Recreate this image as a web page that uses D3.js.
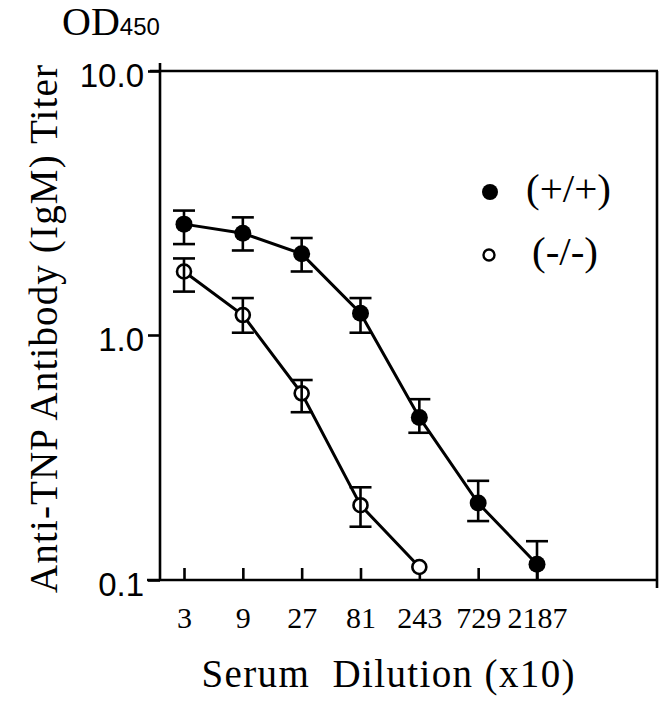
<!DOCTYPE html>
<html>
<head>
<meta charset="utf-8">
<script src="https://cdn.jsdelivr.net/npm/d3@7"></script>
<style>
  html, body { margin: 0; padding: 0; background: #fff; }
  svg { display: block; }
</style>
</head>
<body>
<svg id="chart" width="664" height="720"></svg>
<script>
// ---- data ----
const dilutions = [3, 9, 27, 81, 243, 729, 2187];
const wtValues  = [2.63, 2.43, 2.03, 1.21, 0.461, 0.206, 0.116];
const wtHigh    = [2.96, 2.79, 2.33, 1.38, 0.547, 0.254, 0.144];
const wtLow     = [2.21, 2.09, 1.74, 1.02, 0.399, 0.174, 0.100];
const koDilutions = [3, 9, 27, 81, 243];
const koValues  = [1.74, 1.19, 0.578, 0.202, 0.113];
const koHigh    = [1.95, 1.38, 0.655, 0.239, 0.113];
const koLow     = [1.46, 1.02, 0.484, 0.165, 0.113];
const yTicks    = [0.1, 1, 10];
const yTickLabels = ["0.1", "1.0", "10.0"];
const legendLabels = ["(+/+)", "(-/-)"];

// ---- layout ----
const svg = d3.select("#chart");
const frame = { left: 160, right: 657, top: 71, bottom: 580 };
const serif = "'Liberation Serif', 'Times New Roman', serif";
const sans = "'Liberation Sans', Arial, sans-serif";

const x = d3.scaleLog().domain([3, 2187]).range([184, 537]);
const y = d3.scaleLog().domain([0.1, 1, 10]).range([frame.bottom, 335, frame.top]);

const SW = 2.6;

// frame lines
const g = svg.append("g");
g.append("line").attr("x1", frame.left).attr("x2", frame.left).attr("y1", 63).attr("y2", frame.bottom)
  .attr("stroke", "#000").attr("stroke-width", SW);
g.append("line").attr("x1", 147).attr("x2", frame.right + 1).attr("y1", frame.bottom).attr("y2", frame.bottom)
  .attr("stroke", "#000").attr("stroke-width", SW);
g.append("line").attr("x1", 150).attr("x2", frame.right + 1).attr("y1", frame.top).attr("y2", frame.top)
  .attr("stroke", "#000").attr("stroke-width", SW);
g.append("line").attr("x1", frame.right).attr("x2", frame.right).attr("y1", frame.top).attr("y2", 588)
  .attr("stroke", "#000").attr("stroke-width", SW);

// y axis
const yAxis = d3.axisLeft(y).tickValues(yTicks)
  .tickFormat((d, i) => yTickLabels[i]).tickSize(12).tickPadding(4).tickSizeOuter(0);
const yg = svg.append("g").attr("transform", `translate(${frame.left},0)`).call(yAxis);
yg.select(".domain").remove();
yg.selectAll(".tick line").attr("stroke", "#000").attr("stroke-width", SW);
yg.selectAll(".tick text").attr("font-family", sans).attr("font-size", 33)
  .attr("fill", "#000").attr("dy", "0.48em");

// x axis
const xAxis = d3.axisBottom(x).tickValues(dilutions)
  .tickFormat(d3.format("d")).tickSize(-12).tickPadding(27).tickSizeOuter(0);
const xg = svg.append("g").attr("transform", `translate(0,${frame.bottom})`).call(xAxis);
xg.select(".domain").remove();
xg.selectAll(".tick line").attr("stroke", "#000").attr("stroke-width", SW);
xg.selectAll(".tick text").attr("font-family", serif).attr("font-size", 30).attr("fill", "#000");

// lines
const line = d3.line().x(d => x(d[0])).y(d => y(d[1]));
const wt = dilutions.map((d, i) => [d, wtValues[i], wtLow[i], wtHigh[i]]);
const ko = koDilutions.map((d, i) => [d, koValues[i], koLow[i], koHigh[i]]);

svg.append("path").datum(ko).attr("d", line).attr("fill", "none")
  .attr("stroke", "#000").attr("stroke-width", 3);
svg.append("path").datum(wt).attr("d", line).attr("fill", "none")
  .attr("stroke", "#000").attr("stroke-width", 3);

function errorBars(data) {
  const eg = svg.append("g").attr("stroke", "#000").attr("stroke-width", SW);
  data.filter(d => d[3] - d[2] > 1e-6).forEach(d => {
    const cx = x(d[0]);
    eg.append("line").attr("x1", cx).attr("x2", cx).attr("y1", y(d[3])).attr("y2", y(d[2]));
    eg.append("line").attr("x1", cx - 11).attr("x2", cx + 11).attr("y1", y(d[3])).attr("y2", y(d[3]));
    if (d[2] > 0.1001)
      eg.append("line").attr("x1", cx - 11).attr("x2", cx + 11).attr("y1", y(d[2])).attr("y2", y(d[2]));
  });
}

// filled series: error bars below markers
errorBars(wt);
svg.append("g").selectAll("circle").data(wt).join("circle")
  .attr("cx", d => x(d[0])).attr("cy", d => y(d[1])).attr("r", 8.5).attr("fill", "#000");

// open series: markers then error bars
svg.append("g").selectAll("circle").data(ko).join("circle")
  .attr("cx", d => x(d[0])).attr("cy", d => y(d[1])).attr("r", 7)
  .attr("fill", "#fff").attr("stroke", "#000").attr("stroke-width", 2.6);
errorBars(ko);

// legend
const lg = svg.append("g");
lg.append("circle").attr("cx", 490).attr("cy", 192).attr("r", 8).attr("fill", "#000");
lg.append("circle").attr("cx", 489).attr("cy", 255).attr("r", 5.5).attr("fill", "#fff")
  .attr("stroke", "#000").attr("stroke-width", 2.4);
lg.append("text").attr("x", 526).attr("y", 202).attr("font-family", serif).attr("font-size", 41)
  .attr("fill", "#000").text(legendLabels[0]);
lg.append("text").attr("x", 532).attr("y", 265).attr("font-family", serif).attr("font-size", 41)
  .attr("fill", "#000").text(legendLabels[1]);

// OD450 label
const od = svg.append("text").attr("x", 62).attr("y", 35).attr("fill", "#000");
od.append("tspan").attr("font-family", serif).attr("font-size", 40).text("OD");
od.append("tspan").attr("font-family", sans).attr("font-size", 24).text("450");

// y title
svg.append("text").attr("transform", "translate(57,329) rotate(-90)")
  .attr("text-anchor", "middle").attr("font-family", serif).attr("font-size", 39)
  .attr("textLength", 528).attr("lengthAdjust", "spacing")
  .attr("fill", "#000").text("Anti-TNP Antibody (IgM) Titer");

// x title
svg.append("text").attr("x", 388).attr("y", 687).attr("text-anchor", "middle")
  .attr("font-family", serif).attr("font-size", 39).attr("fill", "#000")
  .attr("textLength", 373).attr("lengthAdjust", "spacing")
  .style("white-space", "pre").text("Serum  Dilution (x10)");
</script>
</body>
</html>
